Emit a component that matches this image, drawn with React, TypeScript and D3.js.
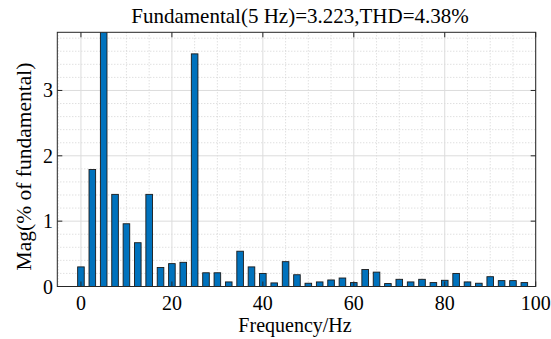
import React from "react";
import * as d3 from "d3";

const freqs: number[] = [
  0, 2.5, 5, 7.5, 10, 12.5, 15, 17.5, 20, 22.5,
  25, 27.5, 30, 32.5, 35, 37.5, 40, 42.5, 45, 47.5,
  50, 52.5, 55, 57.5, 60, 62.5, 65, 67.5, 70, 72.5,
  75, 77.5, 80, 82.5, 85, 87.5, 90, 92.5, 95, 97.5,
];
const mags: number[] = [
  0.3, 1.79, 100, 1.41, 0.96, 0.67, 1.41, 0.29, 0.35, 0.37,
  3.56, 0.21, 0.21, 0.07, 0.54, 0.3, 0.2, 0.055, 0.38, 0.18,
  0.05, 0.07, 0.1, 0.13, 0.06, 0.26, 0.22, 0.045, 0.11, 0.07,
  0.11, 0.06, 0.095, 0.2, 0.07, 0.05, 0.15, 0.09, 0.09, 0.06,
];
const xTicks: number[] = [0, 20, 40, 60, 80, 100];
const yTicks: number[] = [0, 1, 2, 3];
const titleText = "Fundamental(5 Hz)=3.223,THD=4.38%";
const xLabel = "Frequency/Hz";
const yLabel = "Mag(% of fundamental)";

const W = 551;
const H = 339;
const M = { left: 57.3, right: W - 535.7, top: 32.3, bottom: H - 286.5 };
const FONT = "'Liberation Serif', 'Times New Roman', serif";

export default function App() {
  const x = d3.scaleLinear().domain([-5.2, 100]).range([M.left, W - M.right]);
  const y = d3.scaleLinear().domain([0, 3.89]).range([H - M.bottom, M.top]);
  const barW = x(1.45) - x(0);
  const xMinor = d3.range(-5, 100.01, 5).filter((v) => v % 20 !== 0);
  const yMinor = d3.range(0.2, 3.89, 0.2).filter((v) => Math.abs(v - Math.round(v)) > 0.01);
  const x0 = M.left;
  const x1 = W - M.right;
  const y0 = H - M.bottom;
  const y1 = M.top;
  const axisColor = "#262626";
  const tickLen = 5;

  return (
    <svg
      width={W}
      height={H}
      style={{ position: "absolute", left: 0, top: 0, background: "#fff" }}
      fontFamily={FONT}
    >
      <defs>
        <clipPath id="plotClip">
          <rect x={x0} y={y1} width={x1 - x0} height={y0 - y1} />
        </clipPath>
      </defs>
      <rect x={x0} y={y1} width={x1 - x0} height={y0 - y1} fill="#fff" />
      {/* minor grid */}
      {xMinor.map((v) => (
        <line key={"xm" + v} x1={x(v)} x2={x(v)} y1={y1} y2={y0} stroke="#c8c8c8" strokeWidth={0.8} strokeDasharray="1,2" />
      ))}
      {yMinor.map((v) => (
        <line key={"ym" + v} x1={x0} x2={x1} y1={y(v)} y2={y(v)} stroke="#c8c8c8" strokeWidth={0.8} strokeDasharray="1,2" />
      ))}
      {/* major grid */}
      {xTicks.map((v) => (
        <line key={"xg" + v} x1={x(v)} x2={x(v)} y1={y1} y2={y0} stroke="#dcdcdc" strokeWidth={1} />
      ))}
      {yTicks.map((v) => (
        <line key={"yg" + v} x1={x0} x2={x1} y1={y(v)} y2={y(v)} stroke="#dcdcdc" strokeWidth={1} />
      ))}
      {/* bars */}
      <g clipPath="url(#plotClip)">
        {freqs.map((f, i) => (
          <rect
            key={"b" + i}
            x={x(f) - barW / 2}
            y={y(mags[i])}
            width={barW}
            height={y(0) - y(mags[i])}
            fill="#0072BD"
            stroke="#1a1a1a"
            strokeWidth={0.9}
          />
        ))}
      </g>
      {/* box */}
      <rect x={x0} y={y1} width={x1 - x0} height={y0 - y1} fill="none" stroke={axisColor} strokeWidth={1} />
      {/* ticks */}
      {xTicks.map((v) => (
        <g key={"xt" + v}>
          <line x1={x(v)} x2={x(v)} y1={y0} y2={y0 - tickLen} stroke={axisColor} />
          <line x1={x(v)} x2={x(v)} y1={y1} y2={y1 + tickLen} stroke={axisColor} />
          <text x={x(v)} y={310} textAnchor="middle" fontSize={20} fill="#000">
            {v}
          </text>
        </g>
      ))}
      {yTicks.map((v) => (
        <g key={"yt" + v}>
          <line x1={x0} x2={x0 + tickLen} y1={y(v)} y2={y(v)} stroke={axisColor} />
          <line x1={x1} x2={x1 - tickLen} y1={y(v)} y2={y(v)} stroke={axisColor} />
          <text x={53} y={y(v)} dy="0.35em" textAnchor="end" fontSize={20} fill="#000">
            {v}
          </text>
        </g>
      ))}
      <text x={300} y={23} textAnchor="middle" fontSize={21} fill="#000">
        {titleText}
      </text>
      <text x={295} y={332} textAnchor="middle" fontSize={20} fill="#000">
        {xLabel}
      </text>
      <text
        transform={`translate(31,166.5) rotate(-90)`}
        textAnchor="middle"
        fontSize={21.5}
        fill="#000"
      >
        {yLabel}
      </text>
    </svg>
  );
}
